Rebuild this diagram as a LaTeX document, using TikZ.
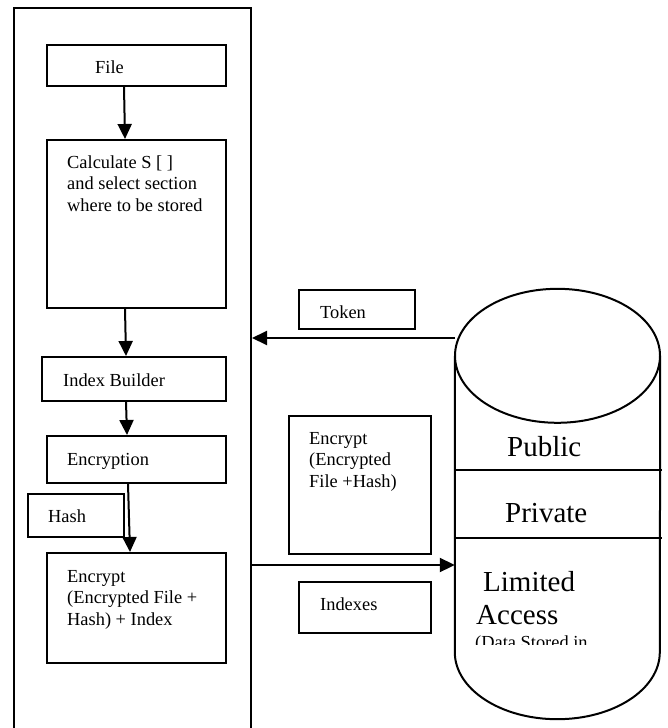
\documentclass[tikz,border=0pt]{standalone}
\usepackage{fontspec}
\setmainfont{Liberation Serif}
\usetikzlibrary{arrows.meta}
% left-aligned stack of lines whose baseline is that of the first line
\newcommand\stacklines[1]{\vtop{\baselineskip=21.5pt\halign{##\hfil\cr#1\crcr}}}
\begin{document}
\begin{tikzpicture}[x=1pt,y=-1pt,
  box/.style={draw,rectangle,line width=2pt,inner sep=0pt},
  lbl/.style={anchor=base west,inner sep=0pt,font=\fontsize{18.4}{21.5}\selectfont},
  biglbl/.style={anchor=base west,inner sep=0pt,font=\fontsize{29}{33}\selectfont},
  arr/.style={line width=2pt,-{Triangle[length=15pt,width=14pt]}},
  cyl/.style={line width=2pt}]
\clip (0,0) rectangle (667,728);
\fill[white] (0,0) rectangle (667,728);

% client side frame (runs past the lower edge)
\node[box,minimum width=237pt,minimum height=732pt] (outer) at (132.5,374) {};

% processing steps
\node[box,minimum width=179pt,minimum height=41pt]  (file)   at (136.5,65.5) {};
\node[box,minimum width=179pt,minimum height=168pt] (calc)   at (136.5,224) {};
\node[box,minimum width=184pt,minimum height=44pt]  (index)  at (134,379) {};
\node[box,minimum width=179pt,minimum height=47pt]  (encr)   at (136.5,459.5) {};
\node[box,minimum width=96pt,minimum height=43pt]   (hash)   at (76,515.5) {};
\node[box,minimum width=179pt,minimum height=110pt] (encidx) at (136.5,608) {};

\node[lbl] (tfile) at (95,73) {File};
\node[lbl] (tcalc) at (67,168) {\stacklines{Calculate S [ ]\cr and select section\cr where to be stored}};
\node[lbl] (tindex) at (63,386) {Index Builder};
\node[lbl] (tencr) at (67,465) {Encryption};
\node[lbl] (thash) at (48,522) {Hash};
\node[lbl] (tencidx) at (67,582) {\stacklines{Encrypt\cr (Encrypted File +\cr Hash) + Index}};

\draw[arr] ([xshift=-12.5pt]file.south) -- ([xshift=-11.5pt]calc.north);
\draw[arr] ([xshift=-11.5pt]calc.south) -- ([xshift=-8pt]index.north);
\draw[arr] ([xshift=-8pt]index.south) -- ([xshift=-9.5pt]encr.north);
\draw[arr] ([xshift=-8.5pt]encr.south) -- ([xshift=-6.5pt]encidx.north);

% messages between client and storage
\node[box,minimum width=116pt,minimum height=39pt]  (token)   at (357,309.5) {};
\node[box,minimum width=142pt,minimum height=138pt] (encfile) at (360,485) {};
\node[box,minimum width=132pt,minimum height=51pt]  (indexes) at (365,607.5) {};
\node[lbl] (ttoken) at (320,318) {Token};
\node[lbl] (tencfile) at (309,444) {\stacklines{Encrypt\cr (Encrypted\cr File +Hash)}};
\node[lbl] (tindexes) at (320,610) {Indexes};

% storage cylinder
\node[inner sep=0pt,minimum width=205pt,minimum height=430pt] (db) at (557.5,504) {};
\draw[cyl] ([yshift=-67pt]db.north) ellipse [x radius=102.5pt, y radius=67pt];
\draw[cyl] ([yshift=-67pt]db.north west) -- ([yshift=67pt]db.south west)
  arc[start angle=180,end angle=360,x radius=102.5pt,y radius=67pt]
  -- ([yshift=-67pt]db.north east);
\draw[cyl] (db.west |- 0,470) -- ([xshift=2pt]db.east |- 0,470);
\draw[cyl] (db.west |- 0,538) -- ([xshift=2pt]db.east |- 0,538);
\node[biglbl] (tpublic) at (507,456) {Public};
\node[biglbl] (tprivate) at (505,522) {Private};
\node[biglbl] (tlimited) at (483,591) {Limited};
\node[biglbl] (taccess) at (476,624) {Access};
\begin{scope}
  \clip (455,600) rectangle (660,644);
  \node[lbl] (tdata) at (475,648) {(Data Stored in};
\end{scope}

\coordinate (tok) at (455,338);
\draw[arr] (tok) -- (outer.east |- tok);
\coordinate (idx) at (251,565);
\draw[arr] (outer.east |- idx) -- (db.west |- idx);
\end{tikzpicture}
\end{document}
